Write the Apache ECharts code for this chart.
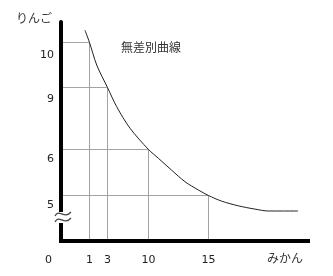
<!DOCTYPE html>
<html>
<head>
<meta charset="utf-8">
<script src="https://cdn.jsdelivr.net/npm/echarts@6/dist/echarts.min.js"></script>
<style>
html,body{margin:0;padding:0;background:#fff;}
#chart{width:333px;height:276px;}
</style>
</head>
<body>
<div id="chart"></div>
<script>
// ---- data (goods units) ----
const xTicks = [1, 3, 10, 15];          // みかん
const yTicks = [10, 9, 6, 5];           // りんご
const originLabel = 0;
const curveX = [0.84, 1, 1.8, 3, 4.57, 6.84, 10, 10.82, 11.93, 13.04, 14.15, 15, 16.1, 17.5, 18.9, 20.0, 21.2, 22.5];
const curveY = [10.27, 10, 9.5, 9, 8.07, 7.03, 6, 5.81, 5.55, 5.30, 5.12, 5, 4.88, 4.78, 4.71, 4.67, 4.67, 4.67];

// ---- schematic (hand-drawn, non-linear) axis layout: value -> distance along axis ----
const xKnotVal = [0, 1, 3, 10, 15, 23.25];
const xKnotPos = [0, 28.5, 46.5, 87.5, 147.5, 246];
const yKnotVal = [0, 4.5, 5, 6, 9, 10, 10.45];
const yKnotPos = [0, 22, 45.5, 91.5, 153.5, 198.5, 219];
const yLabelPad = [7, 6, 4, 4];   // label offset below each gridline

function warp(v, kv, kp) {
  let i = 0;
  while (i < kv.length - 2 && v > kv[i + 1]) i++;
  const t = (v - kv[i]) / (kv[i + 1] - kv[i]);
  return kp[i] + t * (kp[i + 1] - kp[i]);
}
const wx = v => warp(v, xKnotVal, xKnotPos);
const wy = v => warp(v, yKnotVal, yKnotPos);
function tickIndex(d, ticks, f) {
  for (let i = 0; i < ticks.length; i++) if (Math.abs(f(ticks[i]) - d) < 0.01) return i;
  return -1;
}

const numFont = 'DejaVu Sans';
const jpFont = '"Noto Sans CJK JP"';

const series = [];
xTicks.forEach((x, i) => {
  const y = yTicks[i];
  series.push({
    type: 'line', silent: true, symbol: 'none', z: 1,
    lineStyle: { color: '#a3a3a3', width: 1 },
    data: [[wx(0), wy(y)], [wx(x), wy(y)], [wx(x), wy(0)]]
  });
});
series.push({
  type: 'line', silent: true, symbol: 'none', z: 3,
  smooth: 0.3,
  lineStyle: { color: '#222', width: 1 },
  data: curveX.map((x, i) => [wx(x), wy(curveY[i])])
});

const yRich = {};
yTicks.forEach((t, i) => {
  yRich['t' + i] = { padding: [yLabelPad[i], 0, 0, 0], fontSize: 11, color: '#222', fontFamily: numFont, verticalAlign: 'top' };
});

const chart = echarts.init(document.getElementById('chart'), null, { renderer: 'canvas' });
chart.setOption({
  animation: false,
  backgroundColor: '#fff',
  title: {
    text: '無差別曲線', left: 121, top: 41, padding: 0,
    textStyle: { fontSize: 12, fontWeight: 'normal', color: '#333', fontFamily: jpFont }
  },
  grid: { left: 61, right: 25, top: 22, bottom: 35 },
  xAxis: {
    type: 'value', min: 0, max: 247, z: 5,
    axisLine: { lineStyle: { color: '#000', width: 4, cap: 'square' } },
    axisTick: { show: false }, splitLine: { show: false },
    name: 'みかん', nameLocation: 'end', nameGap: 0,
    nameTextStyle: { align: 'right', verticalAlign: 'top', padding: [11, 5, 0, 0], fontSize: 12, color: '#333', fontFamily: jpFont },
    axisLabel: {
      customValues: [wx(originLabel)].concat(xTicks.map(wx)),
      margin: 14, fontSize: 11, color: '#222', fontFamily: numFont,
      formatter: v => {
        if (Math.abs(v - wx(originLabel)) < 0.01) return '{o|' + originLabel + '}';
        const i = tickIndex(v, xTicks, wx);
        return i < 0 ? '' : String(xTicks[i]);
      },
      rich: { o: { padding: [0, 25, 0, 0], fontSize: 11, color: '#222', fontFamily: numFont } }
    }
  },
  yAxis: {
    type: 'value', min: 0, max: 219, z: 5,
    axisLine: { lineStyle: { color: '#000', width: 4 } },
    axisTick: { show: false }, splitLine: { show: false },
    name: 'りんご', nameLocation: 'end', nameGap: 4,
    nameTextStyle: { align: 'right', verticalAlign: 'middle', padding: [0, 9, 0, 0], fontSize: 12, color: '#333', fontFamily: jpFont },
    axisLabel: {
      customValues: yTicks.map(wy),
      margin: 7, fontSize: 11, color: '#222', fontFamily: numFont,
      verticalAlign: 'top',
      formatter: v => {
        const i = tickIndex(v, yTicks, wy);
        return i < 0 ? '' : '{t' + i + '|' + yTicks[i] + '}';
      },
      rich: yRich
    }
  },
  series: series
});

// axis break mark (≈) on the y axis below 5
const o = chart.convertToPixel({ gridIndex: 0 }, [0, 0]);
const bx = o[0], by = o[1] - 24;
chart.setOption({
  graphic: [
    { type: 'rect', z: 100, shape: { x: bx - 5, y: by - 5, width: 10, height: 11 }, style: { fill: '#fff' } },
    { type: 'bezierCurve', z: 101, shape: { x1: bx - 6, y1: by - 1, cpx1: bx - 2, cpy1: by - 9, cpx2: bx + 3, cpy2: by + 3, x2: bx + 10, y2: by - 5 }, style: { stroke: '#444', lineWidth: 1.3, fill: null } },
    { type: 'bezierCurve', z: 101, shape: { x1: bx - 6, y1: by + 5, cpx1: bx - 2, cpy1: by - 3, cpx2: bx + 3, cpy2: by + 9, x2: bx + 10, y2: by + 1 }, style: { stroke: '#444', lineWidth: 1.3, fill: null } }
  ]
});
</script>
</body>
</html>
